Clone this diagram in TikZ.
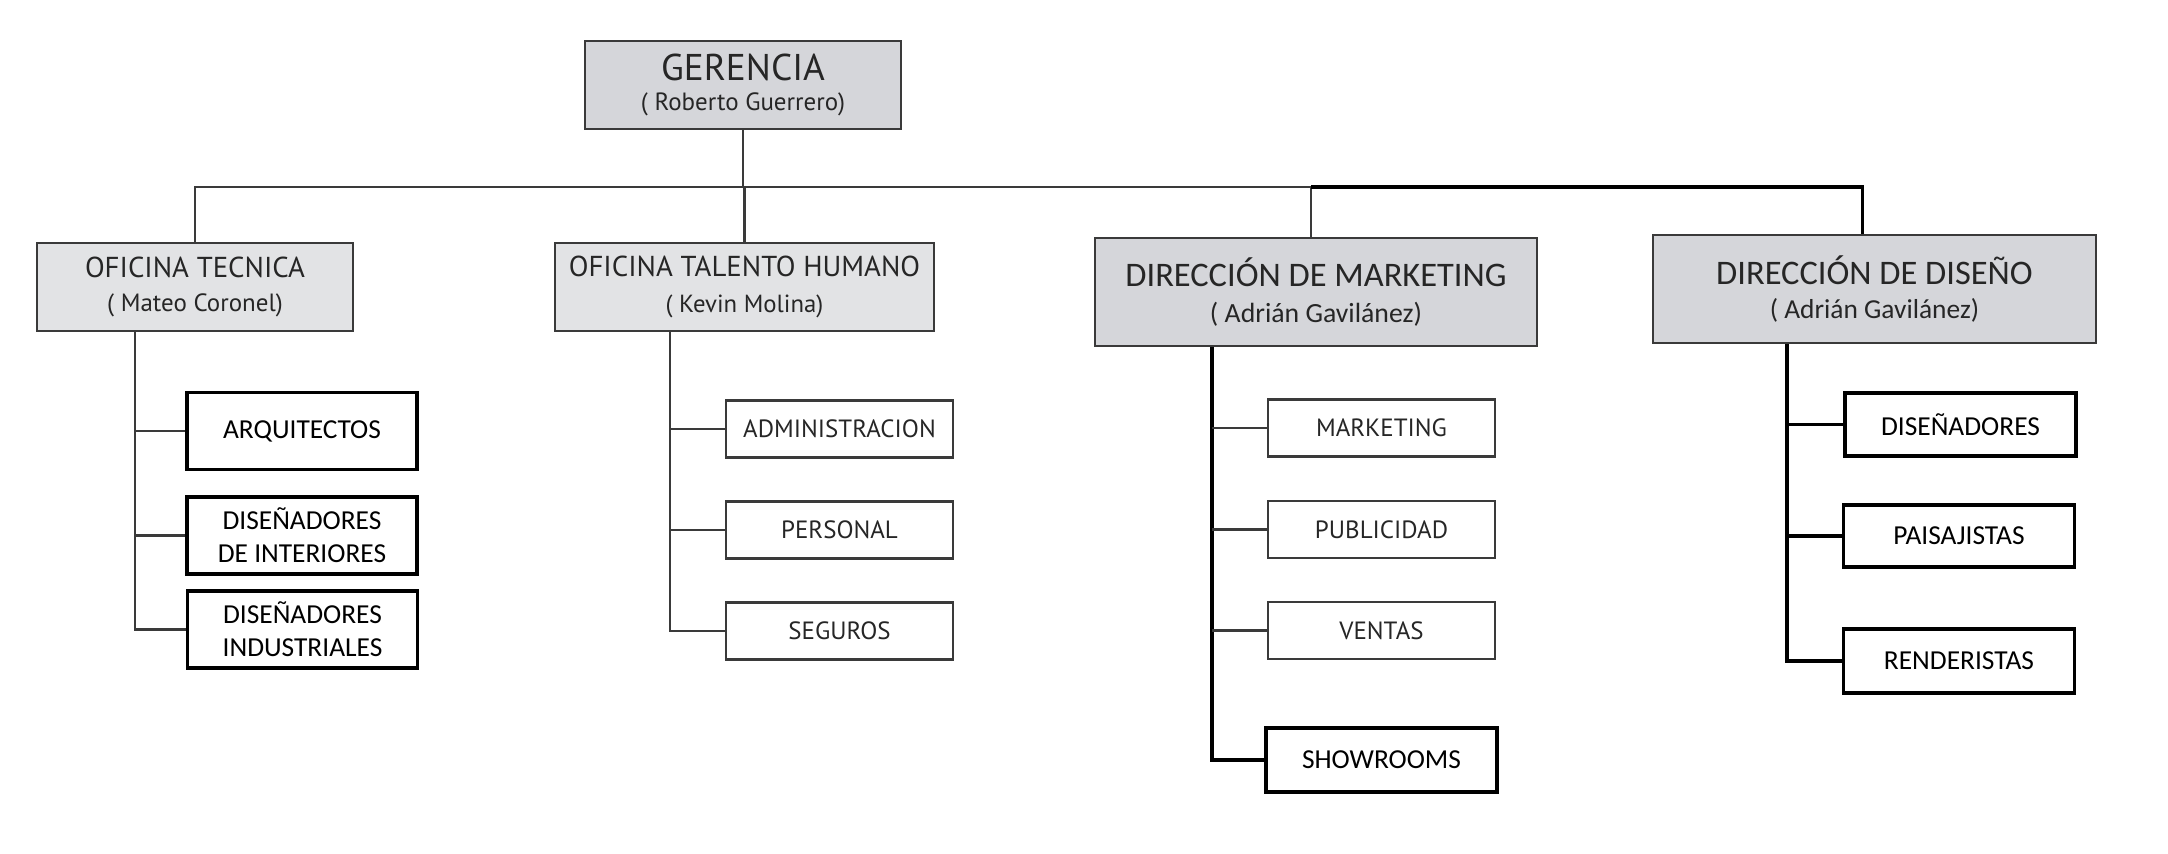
\documentclass[tikz,border=0pt]{standalone}
\usepackage{fontspec}
\setmainfont{Carlito}
\newfontfamily\myriad{PT Sans}
\usetikzlibrary{positioning}
\definecolor{headfill}{HTML}{D5D6DA}
\definecolor{offfill}{HTML}{E2E3E5}
\definecolor{inkgray}{HTML}{3A3A3A}
\definecolor{inkdark}{HTML}{262626}

\begin{document}
\begin{tikzpicture}[x=0.1mm,y=-0.1mm,
 head/.style={draw=inkgray,line width=0.6pt,fill=headfill,inner sep=0pt,align=center,text=inkdark},
 unit/.style={draw=black,line width=0.9pt,fill=white,inner sep=0pt,align=center,
  minimum width=23mm,minimum height=7.7mm,font=\fontsize{7.8}{9.3}\selectfont},
 sub/.style={draw=inkgray,line width=0.6pt,fill=white,inner sep=0pt,align=center,
  minimum width=22.7mm,minimum height=5.7mm,text=inkdark,font=\myriad\fontsize{7.1}{8}\selectfont},
 link/.style={draw=inkgray,line width=0.6pt},
 bold/.style={draw=black,line width=0.9pt}]
\path[use as bounding box,fill=white] (0,0) rectangle (2168,854);
% cargos
\node[head,minimum width=31.6mm,minimum height=8.8mm,font=\myriad\fontsize{7.1}{8.8}\selectfont] (ger) at (743,85)
 {{\fontsize{10.6}{8.8}\selectfont GERENCIA}\\( Roberto Guerrero)};
\node[head,fill=offfill,minimum width=31.6mm,minimum height=8.8mm,font=\myriad\fontsize{7.1}{9.4}\selectfont] (ot) at (195,287)
 {{\fontsize{8.2}{9.4}\selectfont OFICINA TECNICA}\\( Mateo Coronel)};
\node[head,fill=offfill,minimum width=37.9mm,minimum height=8.8mm,font=\myriad\fontsize{7.05}{10.2}\selectfont] (oth) at (744.5,287)
 {{\fontsize{8.2}{10.2}\selectfont OFICINA TALENTO HUMANO}\\( Kevin Molina)};
\node[head,minimum width=44.2mm,minimum height=10.8mm,font=\fontsize{7.9}{10.2}\selectfont] (dm) at (1316,292)
 {{\fontsize{9.8}{10.2}\selectfont DIRECCIÓN DE MARKETING}\\( Adrián Gavilánez)};
\node[head,minimum width=44.3mm,minimum height=10.8mm,font=\fontsize{7.8}{9.9}\selectfont] (dd) at (1874.5,289)
 {{\fontsize{9.8}{9.9}\selectfont DIRECCIÓN DE DISEÑO}\\( Adrián Gavilánez)};
% areas
\node[unit] (arq) at (302,431) {ARQUITECTOS};
\node[unit] (int) at (302,535.5) {DISEÑADORES\\DE INTERIORES};
\node[unit] (ind) at (302.5,629.5) {DISEÑADORES\\INDUSTRIALES};
\node[sub] (adm) at (839.5,429) {ADMINISTRACION};
\node[sub] (per) at (839.5,530) {PERSONAL};
\node[sub] (seg) at (839.5,631) {SEGUROS};
\node[sub] (mkt) at (1381.5,428) {MARKETING};
\node[sub] (pub) at (1381.5,529.5) {PUBLICIDAD};
\node[sub] (ven) at (1381.5,630.5) {VENTAS};
\node[unit,minimum width=23.1mm,minimum height=6.4mm] (sho) at (1381.5,760) {SHOWROOMS};
\node[unit,minimum width=23.1mm,minimum height=6.3mm] (dis) at (1960.5,424.5) {DISEÑADORES};
\node[unit,minimum width=23.1mm,minimum height=6.2mm] (pai) at (1959,536) {PAISAJISTAS};
\node[unit,minimum width=23.1mm,minimum height=6.4mm] (ren) at (1959,661) {RENDERISTAS};
% lineas
\coordinate (bus) at (743,187);
\coordinate (dmtop) at ([xshift=-0.5mm]dm.north);
\coordinate (ddtop) at ([xshift=-1.2mm]dd.north);
\draw[link] (ger.south) -- (bus);
\draw[link] (ot.north) |- (bus) -| (dmtop);
\draw[link] (oth.north) -- (oth.north |- bus);
\draw[bold] (bus -| dmtop) -| (ddtop);
\coordinate (otT) at ([xshift=-6mm]ot.south);
\draw[link] (otT) |- (ind.west);
\foreach \n in {arq,int} \draw[link] (\n.west) -- (\n.west -| otT);
\coordinate (othT) at ([xshift=-7.45mm]oth.south);
\draw[link] (othT) |- (seg.west);
\foreach \n in {adm,per} \draw[link] (\n.west) -- (\n.west -| othT);
\coordinate (dmT) at ([xshift=-10.4mm]dm.south);
\draw[bold] (dmT) |- (sho.west);
\foreach \n in {mkt,pub,ven} \draw[link] (\n.west) -- (\n.west -| dmT);
\coordinate (ddT) at ([xshift=-8.75mm]dd.south);
\draw[bold] (ddT) |- (ren.west);
\foreach \n in {dis,pai} \draw[bold] (\n.west) -- (\n.west -| ddT);
\end{tikzpicture}
\end{document}
